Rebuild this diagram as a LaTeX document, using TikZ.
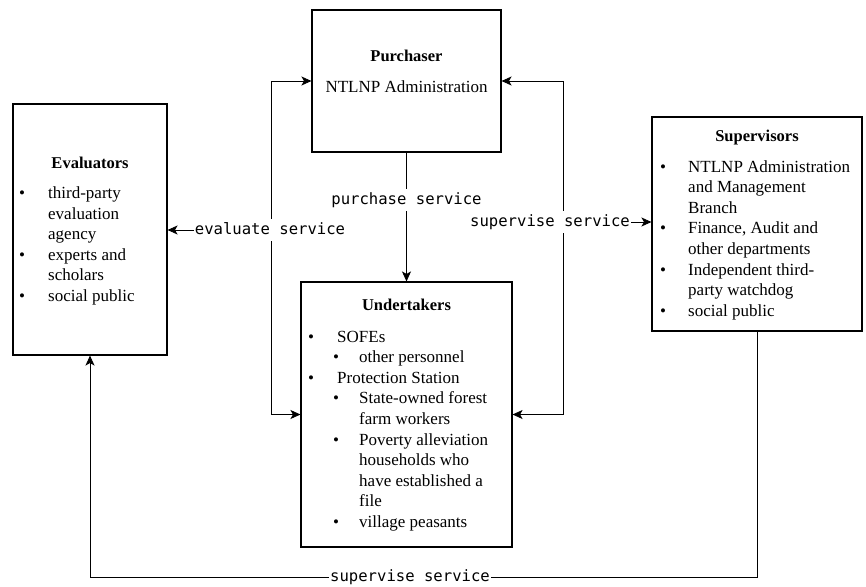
\documentclass[tikz,border=0pt]{standalone}
\usepackage{fontspec}
\setmainfont{Liberation Serif}
\setmonofont{DejaVu Sans Mono}
\usetikzlibrary{arrows.meta}
\newcommand{\dotmark}[1]{\makebox[#1][l]{\textbullet}}

\begin{document}
\begin{tikzpicture}[x=1pt,y=-1pt,
  >={Stealth[length=10pt,width=9pt,inset=2.5pt]},
  frame/.style={draw, line width=1.1pt, inner sep=0pt},
  heading/.style={anchor=base, inner sep=0pt, font=\fontsize{16.5}{20}\selectfont\bfseries},
  itemlist/.style={anchor=base west, inner sep=0pt, font=\fontsize{17}{20.6}\selectfont},
  service/.style={fill=white, inner xsep=1pt, inner ysep=4pt, text height=11pt, text depth=3pt,
    font=\fontsize{15.6}{18}\selectfont\ttfamily},
  link/.style={line width=0.9pt}]
  \useasboundingbox (0,0) rectangle (866,586);
  % Kaeufer
  \node[frame, minimum width=189, minimum height=142] (purchaser) at (406.5,81) {};
  \node[heading] (purchasertitle) at (406.5,61.5) {Purchaser};
  \node[anchor=base, inner sep=0pt, font=\fontsize{17}{20.6}\selectfont] (purchasername) at (406.5,92) {NTLNP Administration};
  % Bewerter
  \node[frame, minimum width=154, minimum height=251] (eval) at (90,229.5) {};
  \node[heading] (evaltitle) at (90,168.5) {Evaluators};
  \node[itemlist] (evallist) at (19,198.5) {\begin{tabular}[t]{@{}l@{}}
    \dotmark{29pt}third-party\\
    \hspace*{29pt}evaluation\\
    \hspace*{29pt}agency\\
    \dotmark{29pt}experts and\\
    \hspace*{29pt}scholars\\
    \dotmark{29pt}social public
  \end{tabular}};
  % Ausfuehrende
  \node[frame, minimum width=211, minimum height=265] (undertakers) at (406.5,414.5) {};
  \node[heading] (undertakerstitle) at (406.5,310.5) {Undertakers};
  \node[itemlist] (undertakerslist) at (308,342) {\begin{tabular}[t]{@{}l@{}}
    \dotmark{29pt}SOFEs\\
    \hspace*{25pt}\dotmark{26pt}other personnel\\
    \dotmark{29pt}Protection Station\\
    \hspace*{25pt}\dotmark{26pt}State-owned forest\\
    \hspace*{51pt}farm workers\\
    \hspace*{25pt}\dotmark{26pt}Poverty alleviation\\
    \hspace*{51pt}households who\\
    \hspace*{51pt}have established a\\
    \hspace*{51pt}file\\
    \hspace*{25pt}\dotmark{26pt}village peasants
  \end{tabular}};
  % Aufsicht
  \node[frame, minimum width=210, minimum height=214] (sup) at (757,224) {};
  \node[heading] (suptitle) at (757,141.5) {Supervisors};
  \node[itemlist] (suplist) at (660,172) {\begin{tabular}[t]{@{}l@{}}
    \dotmark{28pt}NTLNP Administration\\
    \hspace*{28pt}and Management\\
    \hspace*{28pt}Branch\\
    \dotmark{28pt}Finance, Audit and\\
    \hspace*{28pt}other departments\\
    \dotmark{28pt}Independent third-\\
    \hspace*{28pt}party watchdog\\
    \dotmark{28pt}social public
  \end{tabular}};
  % Kauf der Leistung
  \node[service] (purchase) at (406.5,200) {purchase service};
  \draw[link] (purchaser) -- (purchase);
  \draw[link, ->] (purchase) -- (undertakers);
  % Schleifen links und rechts
  \draw[link, <->] (purchaser.west) -- ++(-40,0) |- (undertakers.west);
  \draw[link, <->] (purchaser.east) -- ++(62,0) |- (undertakers.east);
  % Bewertung und Aufsicht
  \node[service] (evaluate) at (270,230) {evaluate service};
  \draw[link, ->] (evaluate.west) -- (evaluate.west -| eval.east);
  \node[service] (supervise) at (550,222) {supervise service};
  \draw[link, ->] (supervise.east) -- (supervise.east -| sup.west);
  \node[service] (oversee) at (410,577) {supervise service};
  \draw[link] (sup.south) |- (oversee.east);
  \draw[link, ->] (oversee.west) -| (eval.south);
\end{tikzpicture}
\end{document}
